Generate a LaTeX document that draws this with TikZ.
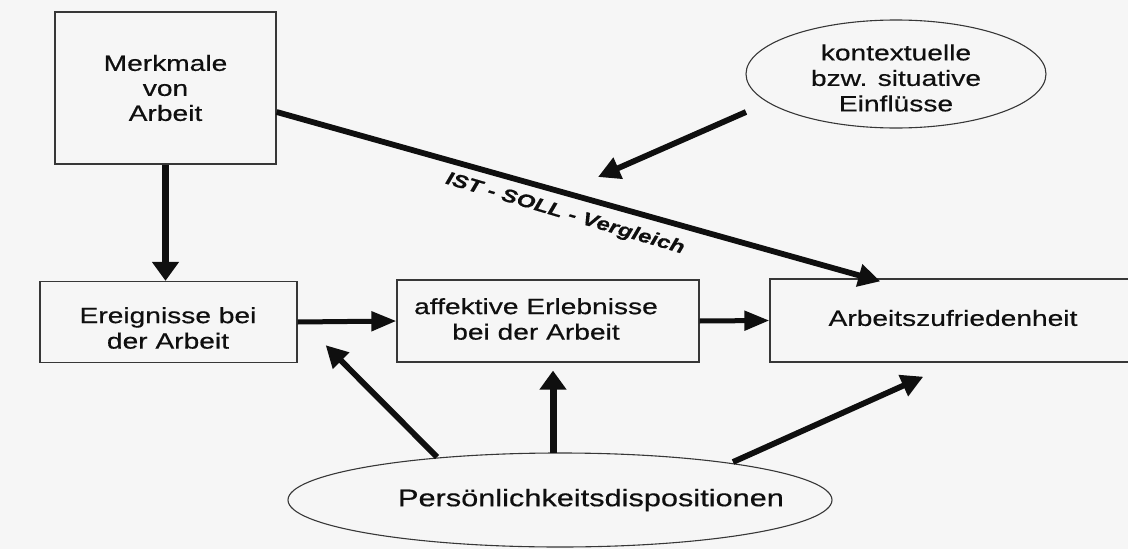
\documentclass[tikz,border=0pt]{standalone}
\usepackage{fontspec}
\setmainfont{Liberation Sans}[FakeStretch=1.28,FakeBold=0.5]
\usetikzlibrary{arrows.meta,shapes.geometric,calc}
\definecolor{bg}{RGB}{246,246,246}
\definecolor{ink}{RGB}{15,15,15}
\definecolor{frame}{RGB}{55,55,55}
\tikzset{
  box/.style={draw=frame, line width=1.3pt, inner sep=0pt, align=center,
              text=ink, font=\fontsize{22}{25}\selectfont},
  ell/.style={draw=frame, line width=1.1pt, ellipse, inner sep=0pt},
  lbltext/.style={align=center, text=ink, inner sep=0pt, font=\fontsize{22}{25.5}\selectfont},
  darr/.style={draw=ink, line width=5.8pt, -{Triangle[length=22pt,width=22pt]}},
  harr/.style={draw=ink, line width=5pt, -{Triangle[length=25pt,width=19pt]}},
  varr/.style={draw=ink, line width=7pt, -{Triangle[length=19pt,width=26pt]}}
}
\begin{document}
\begin{tikzpicture}[x=1pt,y=-1pt]
  \useasboundingbox (0,0) rectangle (1128,549);
  \fill[bg] (0,0) rectangle (1128,549);
  \clip (0,0) rectangle (1128,549);

  % boxes
  \node[box, minimum width=221pt, minimum height=152pt] (merk) at (165.5,88)
       {Merkmale\\von\\Arbeit};
  \node[box, minimum width=257pt, minimum height=81pt] (ereig) at (168.5,322) {};
  \node[lbltext] (ereigtext) at (168,328) {Ereignisse bei\\der Arbeit};
  \node[box, minimum width=302pt, minimum height=82pt] (affek) at (548,321) {};
  \node[lbltext] (affektext) at (536,319) {affektive Erlebnisse\\bei der Arbeit};
  \node[box, minimum width=366pt, minimum height=83pt] (arbeit) at (953,320.5) {};
  \node[lbltext] (arbeittext) at (953,318) {Arbeitszufriedenheit};

  % ellipses
  \node[ell, minimum width=300pt, minimum height=108pt] (kont) at (896,74) {};
  \node[lbltext] (konttext) at (896,78) {kontextuelle\\bzw. situative\\Einflüsse};
  \node[ell, minimum width=544pt, minimum height=94pt] (pers) at (560,500) {};
  \node[lbltext, font=\fontsize{24}{28}\selectfont] (perstext) at (591,500)
       {Persönlichkeitsdispositionen};

  % connectors
  \draw[varr] (merk.south) -- (merk.south |- ereig.north);
  \draw[darr] ([yshift=-24pt]merk.east) -- ($(arbeit.north west)+(111,3)$);
  \node[text=ink, inner sep=0pt, rotate=-16.5,
        font=\bfseries\itshape\fontsize{18.5}{20}\selectfont] (ist) at (565,214)
       {IST - SOLL - Vergleich};
  \coordinate (kt) at (598,177);
  \draw[darr] ($(kont.center)+(-150,38)$) -- (kt);
  \draw[harr] (ereig.east) -- (affek.west);
  \draw[harr] (affek.east) -- (arbeit.west);
  \draw[darr] ($(pers.center)+(-123,-43)$) -- ($(ereig.south east)+(28,-18)$);
  \draw[varr] ($(pers.center)+(-7,-47)$) -- ($(affek.south)+(5,8)$);
  \draw[darr] ($(pers.center)+(173,-38)$) -- ($(arbeit.south west)+(154,14)$);
\end{tikzpicture}
\end{document}
